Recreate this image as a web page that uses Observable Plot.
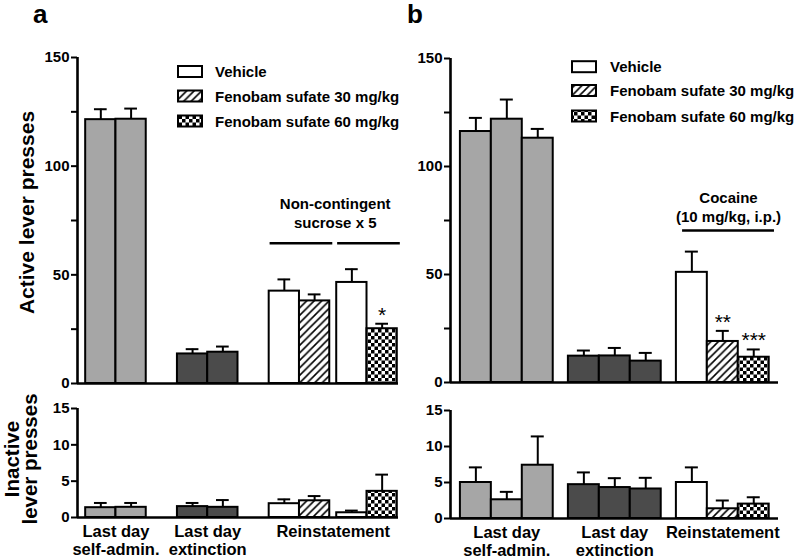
<!DOCTYPE html>
<html>
<head>
<meta charset="utf-8">
<script src="https://cdn.jsdelivr.net/npm/d3@7"></script>
<script src="https://cdn.jsdelivr.net/npm/@observablehq/plot@0.6"></script>
<style>
  body { margin: 0; background: #fff; }
  #chart { position: relative; width: 800px; height: 558px; overflow: hidden; background: #fff;
           font-family: "Liberation Sans", Arial, sans-serif; font-weight: bold; }
  #chart svg { position: absolute; overflow: visible; }
</style>
</head>
<body>
<div id="chart"></div>
<script>
// ---------------- DATA ----------------
const groupLabels = ["Last day\nself-admin.", "Last day\nextinction", "Reinstatement"];
const legendKeys = ["Vehicle", "Fen30", "Fen60"];
const legendLabels = ["Vehicle", "Fenobam sufate 30 mg/kg", "Fenobam sufate 60 mg/kg"];
const activeTicks = [0, 25, 50, 75, 100, 125, 150];
const activeTickLabels = [0, 50, 100, 150];
const inactiveTicks = [0, 5, 10, 15];
const activeTitle = "Active lever presses";
const inactiveTitle = "Inactive\nlever presses";
const panelLetters = ["a", "b"];

// Panel a
const aGroup = [0, 0, 1, 1, 2, 2, 2, 2];
const aSubgroup = [0, 0, 0, 0, 0, 0, 1, 1];
const aTreatment = ["SA", "SA", "EXT", "EXT", "Vehicle", "Fen30", "Vehicle", "Fen60"];
const aActive = [121.4, 121.6, 13.6, 14.4, 42.5, 38.0, 46.5, 25.2];
const aActiveSem = [4.8, 4.9, 2.2, 2.6, 5.4, 3.0, 6.1, 2.3];
const aInactive = [1.35, 1.4, 1.5, 1.4, 1.9, 2.3, 0.65, 3.6];
const aInactiveSem = [0.65, 0.6, 0.5, 1.0, 0.6, 0.65, 0.3, 2.3];
const aActiveStars = ["", "", "", "", "", "", "", "*"];
const aBracketLabel = "Non-contingent\nsucrose x 5";
const aBracketLevel = 64.5;

// Panel b
const bGroup = [0, 0, 0, 1, 1, 1, 2, 2, 2];
const bSubgroup = [0, 0, 0, 0, 0, 0, 0, 0, 0];
const bTreatment = ["SA", "SA", "SA", "EXT", "EXT", "EXT", "Vehicle", "Fen30", "Fen60"];
const bActive = [116.2, 121.9, 113.1, 12.2, 12.3, 9.9, 51.0, 19.0, 11.7];
const bActiveSem = [6.3, 9.1, 4.3, 2.6, 3.7, 3.8, 9.6, 4.9, 3.6];
const bInactive = [5.0, 2.6, 7.4, 4.7, 4.3, 4.1, 5.0, 1.35, 2.0];
const bInactiveSem = [2.1, 1.1, 4.0, 1.7, 1.3, 1.55, 2.1, 1.15, 0.95];
const bActiveStars = ["", "", "", "", "", "", "", "**", "***"];
const bBracketLabel = "Cocaine\n(10 mg/kg, i.p.)";
const bBracketLevel = 70.4;

// ---------------- STYLE ----------------
const fillMap = { SA: "#a6a6a6", EXT: "#4b4b4b", Vehicle: "#ffffff", Fen30: "url(#hatch)", Fen60: "url(#checker)" };
const FONT = "'Liberation Sans', Arial, sans-serif";
const chart = document.getElementById("chart");

// overlay svg with pattern defs, letters, legends
const ov = d3.select(chart).append("svg").attr("width", 800).attr("height", 558).style("left", 0).style("top", 0)
  .style("font-family", FONT).style("font-weight", "bold");
const defs = ov.append("defs");
const hatch = defs.append("pattern").attr("id", "hatch").attr("patternUnits", "userSpaceOnUse").attr("width", 7.5).attr("height", 7.5);
hatch.append("rect").attr("width", 7.5).attr("height", 7.5).attr("fill", "#fff");
hatch.append("path").attr("d", "M0,7.5L7.5,0M-2,2L2,-2M5.5,9.5L9.5,5.5").attr("stroke", "#000").attr("stroke-width", 1.6);
const checker = defs.append("pattern").attr("id", "checker").attr("patternUnits", "userSpaceOnUse").attr("width", 7).attr("height", 7);
checker.append("rect").attr("width", 7).attr("height", 7).attr("fill", "#fff");
checker.append("rect").attr("width", 3.5).attr("height", 3.5).attr("fill", "#000");
checker.append("rect").attr("x", 3.5).attr("y", 3.5).attr("width", 3.5).attr("height", 3.5).attr("fill", "#000");

// ---------------- LAYOUT ----------------
function buildRows(groups, subs, treat, vals, sems, stars, {offset, groupGap, subGap}) {
  let cursor = offset;
  return groups.map((g, i) => {
    if (i > 0) {
      if (g !== groups[i - 1]) cursor += groupGap;
      else if (subs[i] !== subs[i - 1]) cursor += subGap;
    }
    const r = { g, sub: subs[i], t: treat[i], x1: cursor, x2: cursor + 1, xc: cursor + 0.5,
                v: vals[i], hi: vals[i] + sems[i], fill: fillMap[treat[i]], star: stars ? stars[i] : "" };
    cursor += 1;
    return r;
  });
}
function groupCenters(rows) {
  return groupLabels.map((label, g) => {
    const rs = rows.filter(r => r.g === g);
    return { label, xc: (d3.min(rs, r => r.x1) + d3.max(rs, r => r.x2)) / 2 };
  });
}

const layoutA = { offset: 0.27, groupGap: 1.03, subGap: 0.23 };
const layoutB = { offset: 0.32, groupGap: 0.49, subGap: 0 };
const X_DOMAIN = [0, 10.6];
const CAP = 0.21;

function barMarks(rows) {
  return [
    Plot.ruleX(rows, { x: "xc", y1: "v", y2: "hi", stroke: "#000", strokeWidth: 2 }),
    Plot.ruleY(rows, { y: "hi", x1: d => d.xc - CAP, x2: d => d.xc + CAP, stroke: "#000", strokeWidth: 2 }),
    Plot.rect(rows, { x1: "x1", x2: "x2", y1: 0, y2: "v", fill: "fill", stroke: "#000", strokeWidth: 2 }),
    Plot.ruleX([0], { stroke: "#000", strokeWidth: 2.6 }),
    Plot.ruleY([0], { stroke: "#000", strokeWidth: 2.6 })
  ];
}

function place(svg, left, top) {
  svg.style.position = "absolute";
  svg.style.left = left + "px";
  svg.style.top = top + "px";
  svg.style.overflow = "visible";
  svg.style.background = "transparent";
  chart.appendChild(svg);
}

function topPlot(rows, {width, ml, mr, mt, mb, bracketSegs, bracketLevel, bracketLabel, labelDy, withTitle}) {
  const bracketCenter = [{ label: bracketLabel, xc: (d3.min(bracketSegs, s => s.x1) + d3.max(bracketSegs, s => s.x2)) / 2 }];
  return Plot.plot({
    width, height: 395, marginLeft: ml, marginRight: mr, marginTop: mt, marginBottom: mb,
    x: { domain: X_DOMAIN, axis: null },
    y: { domain: [0, 150], axis: null },
    color: { type: "identity" },
    style: { fontFamily: FONT, fontSize: "15px", fontWeight: "bold", background: "transparent" },
    marks: [
      ...barMarks(rows),
      Plot.axisY({ ticks: activeTicks, tickFormat: d => activeTickLabels.includes(d) ? d : "", tickSize: 6, tickPadding: 2,
                   strokeWidth: 2, label: null, fontSize: 15, fontWeight: "bold" }),
      Plot.text(rows.filter(r => r.star), { x: "xc", y: "hi", text: "star", lineAnchor: "bottom", dy: -2, fontSize: 21, fontWeight: "normal" }),
      Plot.ruleY(bracketSegs, { y: bracketLevel, x1: "x1", x2: "x2", stroke: "#000", strokeWidth: 2.6 }),
      Plot.text(bracketCenter, { x: "xc", y: bracketLevel, text: "label", lineAnchor: "bottom", dy: labelDy, fontSize: 15, lineHeight: 1.3, fontWeight: "bold" }),
      ...(withTitle ? [Plot.text([activeTitle], { text: d => d, frameAnchor: "left", textAnchor: "middle", dx: -50.7, dy: -8, rotate: -90, fontSize: 21, fontWeight: "bold" })] : [])
    ]
  });
}

function bottomPlot(rows, {width, ml, mr, mt, mb, withTitle}) {
  return Plot.plot({
    width, height: 163, marginLeft: ml, marginRight: mr, marginTop: mt, marginBottom: mb,
    x: { domain: X_DOMAIN, axis: null },
    y: { domain: [0, 15], axis: null },
    color: { type: "identity" },
    style: { fontFamily: FONT, fontSize: "15px", fontWeight: "bold", background: "transparent" },
    marks: [
      ...barMarks(rows),
      Plot.axisY({ ticks: inactiveTicks, tickSize: 6, tickPadding: 2, strokeWidth: 2, label: null, fontSize: 15, fontWeight: "bold" }),
      Plot.text(groupCenters(rows), { x: "xc", y: 0, text: "label", lineAnchor: "top", dy: 7, fontSize: 16.5, lineHeight: 1.07, fontWeight: "bold" }),
      ...(withTitle ? [Plot.text([inactiveTitle], { text: d => d, frameAnchor: "left", textAnchor: "middle", dx: -55.2, dy: -4, rotate: -90, fontSize: 20.5, lineHeight: 0.9, fontWeight: "bold" })] : [])
    ]
  });
}

// ---------------- PANEL A ----------------
const aTopRows = buildRows(aGroup, aSubgroup, aTreatment, aActive, aActiveSem, aActiveStars, layoutA);
const aBotRows = buildRows(aGroup, aSubgroup, aTreatment, aInactive, aInactiveSem, null, layoutA);
const aSegs = d3.groups(aTopRows.filter(r => r.g === 2), r => r.sub)
  .map(([, rs]) => ({ x1: d3.min(rs, r => r.x1) + 0.03, x2: d3.max(rs, r => r.x2) + 0.1 }));

place(topPlot(aTopRows, { width: 410, ml: 77, mr: 12, mt: 57, mb: 12, bracketSegs: aSegs, bracketLevel: aBracketLevel,
  bracketLabel: aBracketLabel, labelDy: -15, withTitle: true }), 0, 0);
place(bottomPlot(aBotRows, { width: 410, ml: 77, mr: 12, mt: 13, mb: 41, withTitle: true }), 0, 395);

// ---------------- PANEL B ----------------
const bTopRows = buildRows(bGroup, bSubgroup, bTreatment, bActive, bActiveSem, bActiveStars, layoutB);
const bBotRows = buildRows(bGroup, bSubgroup, bTreatment, bInactive, bInactiveSem, null, layoutB);
const bSegs = d3.groups(bTopRows.filter(r => r.g === 2), r => r.sub)
  .map(([, rs]) => ({ x1: d3.min(rs, r => r.x1) + 0.2, x2: d3.max(rs, r => r.x2) + 0.17 }));

place(topPlot(bTopRows, { width: 400, ml: 50, mr: 22, mt: 58, mb: 13, bracketSegs: bSegs, bracketLevel: bBracketLevel,
  bracketLabel: bBracketLabel, labelDy: -8, withTitle: false }), 400, 0);
place(bottomPlot(bBotRows, { width: 400, ml: 50, mr: 22, mt: 15, mb: 40, withTitle: false }), 400, 395);

// ---------------- LETTERS & LEGENDS (overlay) ----------------
chart.appendChild(ov.node());
ov.selectAll("text.letter").data(panelLetters).join("text").attr("class", "letter")
  .attr("x", (d, i) => i === 0 ? 33 : 407).attr("y", 23).attr("font-size", 26).text(d => d);

function legend(x0, rowYs, textX) {
  const g = ov.append("g");
  legendKeys.forEach((k, i) => {
    g.append("rect").attr("x", x0).attr("y", rowYs[i] - 5.5).attr("width", 24).attr("height", 11)
      .attr("fill", fillMap[k]).attr("stroke", "#000").attr("stroke-width", 2);
    g.append("text").attr("x", textX).attr("y", rowYs[i] + 5.5).attr("font-size", 15).text(legendLabels[i]);
  });
}
legend(178, [71.5, 96, 121], 215);
legend(572, [66.7, 90.5, 116], 610);
</script>
</body>
</html>
